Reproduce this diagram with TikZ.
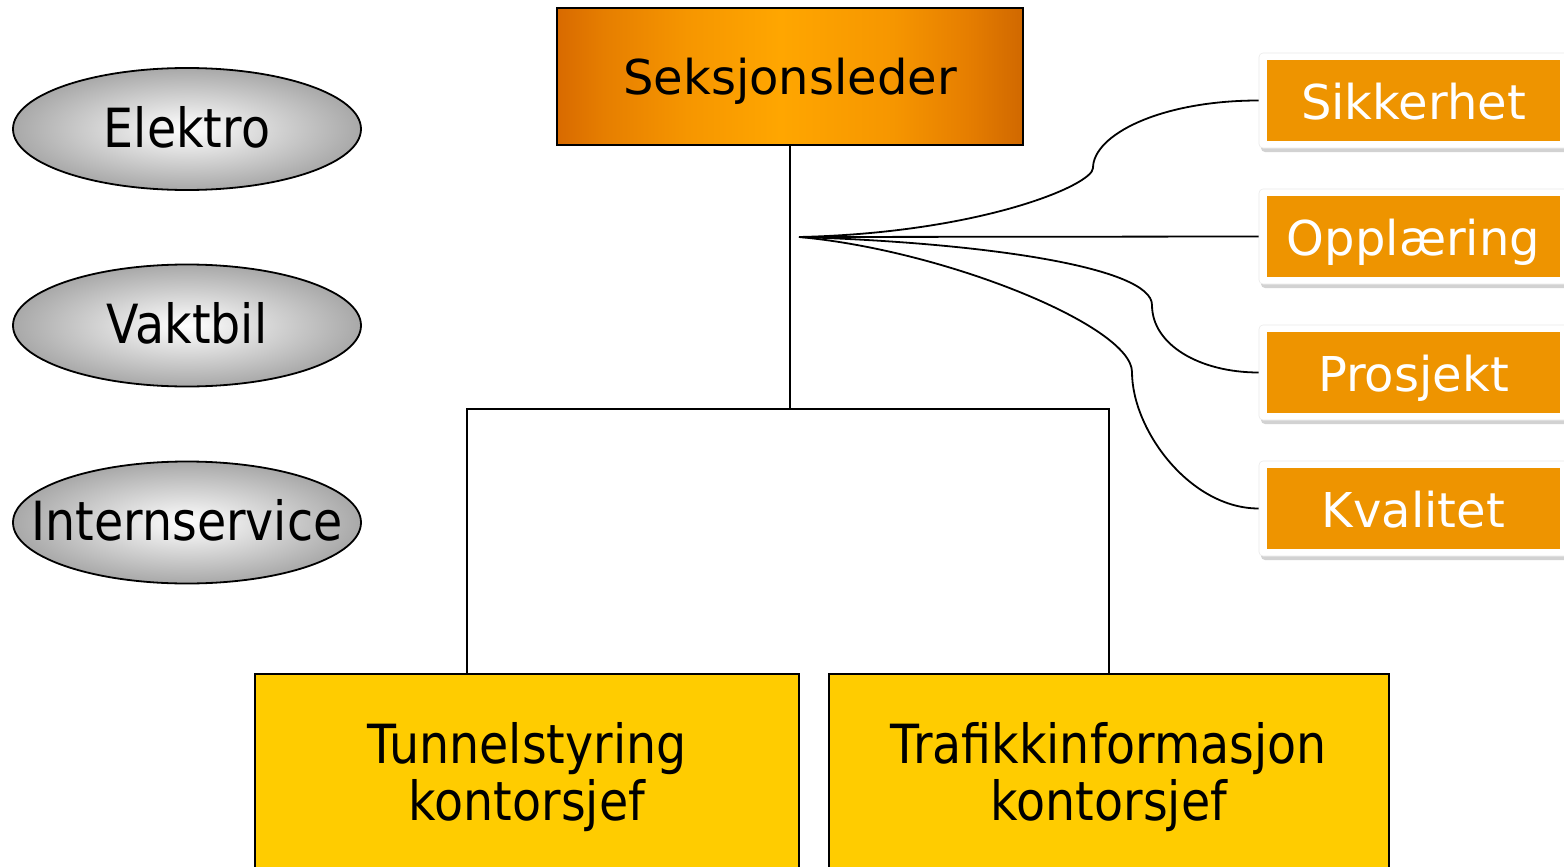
\documentclass[tikz,border=0pt]{standalone}
\usepackage{fontspec}
\setmainfont{DejaVu Sans}
\newfontfamily\tahomafont[FakeStretch=0.88]{DejaVu Sans}
\usetikzlibrary{shapes.geometric,shadows}
\definecolor{orgbox}{RGB}{238,148,0}
\definecolor{yelbox}{RGB}{255,204,0}
\definecolor{ledL}{RGB}{216,106,0}
\definecolor{ledA}{RGB}{230,126,0}
\definecolor{ledB}{RGB}{246,150,0}
\definecolor{ledM}{RGB}{255,166,0}
\definecolor{ledR}{RGB}{208,104,0}
\pgfdeclarehorizontalshading{ledshade}{100bp}{color(0bp)=(ledL); color(25bp)=(ledL); color(30bp)=(ledA); color(39bp)=(ledB); color(49bp)=(ledM); color(61bp)=(ledB); color(69bp)=(ledA); color(75bp)=(ledR); color(100bp)=(ledR)}
\begin{document}
\begin{tikzpicture}[x=1pt,y=-1pt,
  conn/.style={draw=black,line width=1.8pt},
  oval/.style={ellipse,draw=black,line width=1.8pt,inner color=white,outer color=black!34,
    minimum width=348pt,minimum height=122pt,inner sep=0pt,
    font=\tahomafont\fontsize{54}{60}\selectfont,text height=41pt,text depth=5pt},
  sideframe/.style={fill=white,draw=black!8,line width=0.6pt,rounded corners=4pt,
    minimum width=311pt,minimum height=95pt,inner sep=0pt,
    drop shadow={shadow xshift=2pt,shadow yshift=-4pt,fill=black!35,opacity=0.5}},
  sidebox/.style={fill=orgbox,minimum width=293pt,minimum height=81pt,inner sep=0pt,
    text=white,font=\fontsize{48}{58}\selectfont,text height=37pt,text depth=0pt},
  officebox/.style={draw=black,line width=1.8pt,fill=yelbox,anchor=north,
    minimum height=260pt,inner sep=0pt},
  officetext/.style={align=center,font=\tahomafont\fontsize{54}{57}\selectfont}
]
\clip (0,0) rectangle (1564,867);
\fill[white] (0,0) rectangle (1564,867);

% head
\node[draw=black,line width=1.8pt,shading=ledshade,
  minimum width=466pt,minimum height=137pt,inner sep=0pt,
  font=\fontsize{48}{58}\selectfont,text height=37pt,text depth=0pt] (sl) at (790,76.5) {Seksjonsleder};

% ovals
\node[oval] (el) at (187,129) {\makebox[0pt]{Elektro}};
\node[oval] (va) at (187,325.5) {\makebox[0pt]{Vaktbil}};
\node[oval] (in) at (187,522.5) {\makebox[0pt]{Internservice}};

% side boxes
\node[sideframe] (sikf) at (1414.5,100.5) {};
\node[sidebox] (sik) at (1413.5,100.5) {Sikkerhet};
\node[sideframe] (oppf) at (1414.5,236.5) {};
\node[sidebox] (opp) at (1413.5,236.5) {Opplæring};
\node[sideframe] (prof) at (1414.5,372.5) {};
\node[sidebox] (pro) at (1413.5,372.5) {Prosjekt};
\node[sideframe] (kvaf) at (1414.5,508.5) {};
\node[sidebox] (kva) at (1413.5,508.5) {Kvalitet};

% offices
\node[officebox,minimum width=544pt] (tun) at (527,673) {};
\node[officetext] (tunt) at (527,777.5) {Tunnelstyring\\kontorsjef};
\node[officebox,minimum width=560pt] (tra) at (1109,673) {};
\node[officetext] (trat) at (1109,777.5) {Trafikkinformasjon\\kontorsjef};

% connectors
\coordinate (bar) at (790,409);
\coordinate (tunc) at (467,673);
\coordinate (hub) at (799,237);
\draw[conn] (sl.south) -- (bar);
\draw[conn] (tunc) |- (bar) -| (tra.north);
\draw[conn] (hub) .. controls (980,233) and (1093,185) .. (1093,168)
  .. controls (1093,135) and (1160,100.5) .. (sikf.west);
\draw[conn] (hub) -- (oppf.west);
\draw[conn] (hub) .. controls (990,243) and (1152,268) .. (1152,305)
  .. controls (1152,345) and (1200,372.5) .. (prof.west);
\draw[conn] (hub) .. controls (944,250) and (1132,326) .. (1132,372)
  .. controls (1132,430) and (1190,508.5) .. (kvaf.west);
\end{tikzpicture}
\end{document}
